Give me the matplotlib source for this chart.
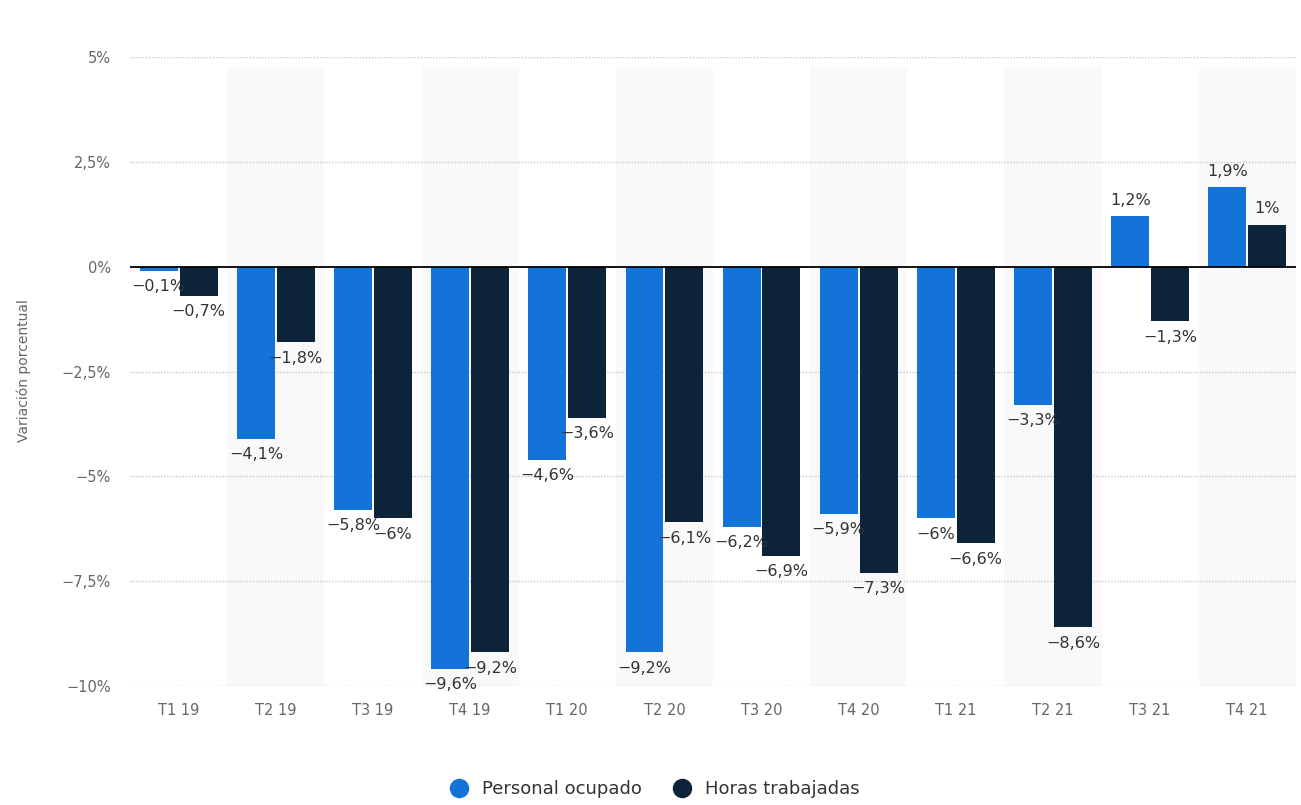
import matplotlib.pyplot as plt
import numpy as np

# data
quarters = ['T1 19', 'T2 19', 'T3 19', 'T4 19', 'T1 20', 'T2 20',
            'T3 20', 'T4 20', 'T1 21', 'T2 21', 'T3 21', 'T4 21']
personal_ocupado = [-0.1, -4.1, -5.8, -9.6, -4.6, -9.2, -6.2, -5.9, -6.0, -3.3, 1.2, 1.9]
horas_trabajadas = [-0.7, -1.8, -6.0, -9.2, -3.6, -6.1, -6.9, -7.3, -6.6, -8.6, -1.3, 1.0]
y_ticks = [-10, -7.5, -5, -2.5, 0, 2.5, 5]

blue = '#1473d8'
dark = '#0c2339'


def fmt(v):
    """Spanish style percent: comma decimal, no trailing ,0"""
    s = f'{v:.1f}'.rstrip('0').rstrip('.')
    return s.replace('.', ',').replace('-', '\u2212') + '%'


fig = plt.figure(figsize=(13.01, 8.05), dpi=100)
ax = fig.add_axes([0.1, 0.148, 0.896, 0.781])

x = np.arange(len(quarters))
w = 0.39

# alternate column shading
for i in x:
    if i % 2 == 1:
        ax.axvspan(i - 0.5, i + 0.5, ymax=0.985, color='#f9f9f9', zorder=0, lw=0)

for t in y_ticks:
    if t != 0:
        ax.axhline(t, color='#c8c8c8', lw=1.0, ls=(0, (1, 1.2)), zorder=1)

b1 = ax.bar(x - w / 2 - 0.01, personal_ocupado, w, color=blue, zorder=2)
b2 = ax.bar(x + w / 2 + 0.01, horas_trabajadas, w, color=dark, zorder=2)
ax.axhline(0, color='black', lw=1.3, zorder=3)

for bars, vals in [(b1, personal_ocupado), (b2, horas_trabajadas)]:
    for rect, v in zip(bars, vals):
        cx = rect.get_x() + rect.get_width() / 2
        off = 6 if v >= 0 else -6
        ax.annotate(fmt(v), (cx, v), xytext=(0, off), textcoords='offset points',
                    ha='center', va='bottom' if v >= 0 else 'top',
                    fontsize=11.5, color='#333333', zorder=4)

ax.set_xlim(-0.5, 11.5)
ax.set_ylim(-10, 5)
ax.set_yticks(y_ticks)
ax.set_yticklabels([fmt(t) for t in y_ticks])
ax.set_xticks(x)
ax.set_xticklabels(quarters)
ax.tick_params(length=0, labelsize=10.5, labelcolor='#666666')
ax.tick_params(axis='y', pad=14)
ax.tick_params(axis='x', pad=12)
for s in ax.spines.values():
    s.set_visible(False)

fig.text(0.018, 0.54, 'Variación porcentual', rotation=90, ha='center', va='center',
         fontsize=10, color='#666666')

h1 = plt.Line2D([], [], marker='o', ls='', color=blue, markersize=13)
h2 = plt.Line2D([], [], marker='o', ls='', color=dark, markersize=13)
fig.legend([h1, h2], ['Personal ocupado', 'Horas trabajadas'], loc='center',
           bbox_to_anchor=(0.5, 0.02), ncol=2, frameon=False, fontsize=13,
           handletextpad=0.3, columnspacing=1.2, labelcolor='#333333')

fig.savefig('out.png', dpi=100)
